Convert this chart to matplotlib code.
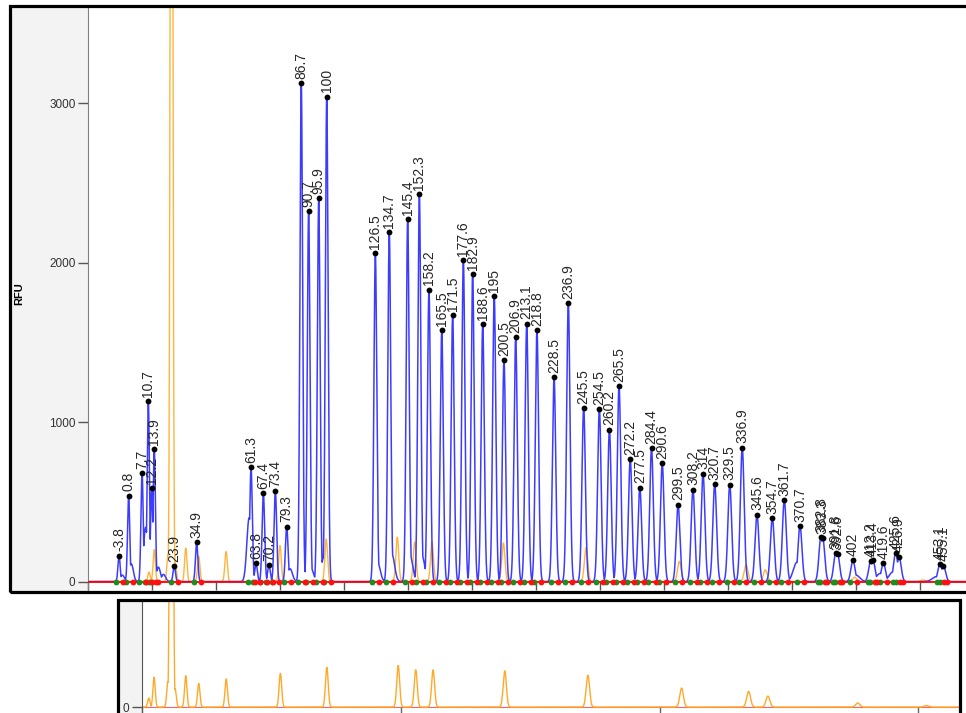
import numpy as np
import matplotlib
matplotlib.use('Agg')
import matplotlib.pyplot as plt
from matplotlib.patches import Rectangle

plt.rcParams['font.family'] = ['Liberation Sans', 'DejaVu Sans']

# called peaks of the blue dye: scan position, height (RFU) and size label (bp)
peak_scan = [1394, 1454, 1538, 1577, 1598, 1614, 1739, 1879, 2219, 2250,
             2296, 2331, 2371, 2442, 2533, 2579, 2642, 2692, 2996, 3083,
             3198, 3271, 3331, 3411, 3479, 3546, 3604, 3667, 3739, 3800,
             3873, 3942, 4006, 4113, 4202, 4298, 4396, 4459, 4519, 4589,
             4649, 4722, 4789, 4888, 4981, 5044, 5117, 5211, 5289, 5381,
             5477, 5552, 5650, 5781, 5792, 5873, 5885, 5981, 6092, 6106,
             6171, 6248, 6269, 6525, 6546]
peak_rfu = [163, 539, 680, 1130, 584, 833, 98, 245, 716, 115,
            553, 103, 567, 345, 3125, 2323, 2402, 3040, 2057, 2191,
            2273, 2428, 1830, 1576, 1669, 2016, 1928, 1612, 1791, 1387,
            1533, 1617, 1576, 1281, 1744, 1090, 1083, 953, 1226, 769,
            589, 836, 742, 483, 577, 677, 612, 608, 840, 420,
            399, 512, 349, 282, 274, 177, 173, 132, 127, 134,
            117, 180, 157, 111, 100]
peak_label = ['-3.8', '0.8', '7.7', '10.7', '12.2', '13.9', '23.9', '34.9', '61.3', '63.8',
              '67.4', '70.2', '73.4', '79.3', '86.7', '90.7', '95.9', '100', '126.5', '134.7',
              '145.4', '152.3', '158.2', '165.5', '171.5', '177.6', '182.9', '188.6', '195', '200.5',
              '206.9', '213.1', '218.8', '228.5', '236.9', '245.5', '254.5', '260.2', '265.5', '272.2',
              '277.5', '284.4', '290.6', '299.5', '308.2', '314', '320.7', '329.5', '336.9', '345.6',
              '354.7', '361.7', '370.7', '382.8', '383.3', '391.8', '392.6', '402', '412.2', '413.4',
              '419.6', '425.6', '426.9', '453.1', '455.1']

# unlabelled shoulders and tails on the blue trace
shoulder_scan = [1415, 1471, 1560, 1640, 1672, 2207, 2463, 2595, 2673, 3010,
                 3100, 3212, 3288, 5630, 6000, 6150, 6230, 6500]
shoulder_rfu = [40, 110, 340, 90, 45, 400, 80, 80, 150, 120,
                170, 170, 160, 120, 40, 50, 60, 30]

# size standard (orange dye)
std_scan = [1581, 1614, 1700, 1722, 1745, 1811, 1892, 2063, 2400, 2689,
            3133, 3242, 3350, 3796, 4313, 4896, 5313, 5433, 5992, 6419]
std_rfu = [60, 200, 170, 8000, 120, 210, 158, 188, 225, 266,
           278, 249, 249, 242, 213, 127, 105, 73, 27, 10]

W, H = 966, 713
PX = 6.25  # scans per pixel of the reference


def box(x0, y0, x1, y1):
    return [x0 / W, 1 - y1 / H, (x1 - x0) / W, (y1 - y0) / H]


def trace(x, centers, heights, widen=1.0):
    y = np.zeros_like(x)
    for c, h in zip(centers, heights):
        s = PX * (1.05 + 0.0013 * (c - 1200) / PX) * widen
        y = np.maximum(y, h * np.exp(-0.5 * ((x - c) / s) ** 2))
    return y


x = np.arange(1200, 6700, 0.5)
blue = np.maximum(trace(x, peak_scan, peak_rfu),
                  trace(x, shoulder_scan, shoulder_rfu, widen=1.8))
orange = trace(x, std_scan, std_rfu)

fig = plt.figure(figsize=(W / 100, H / 100), dpi=100)

# grey side panels and heavy frames
fig.add_artist(Rectangle((9.5 / W, 1 - 591.5 / H), (88 - 9.5) / W, (591.5 - 6) / H,
                         transform=fig.transFigure, fc='#f3f3f3', ec='none', zorder=-1))
fig.add_artist(Rectangle((117.5 / W, 0), (142 - 117.5) / W, (713 - 599.5) / H,
                         transform=fig.transFigure, fc='#f3f3f3', ec='none', zorder=-1))

ax = fig.add_axes(box(88, 7, 966, 590))
ax.plot(x, orange, color='#ffb43c', lw=1.0, zorder=1)
ax.plot(x, blue, color='#3c3cff', lw=1.1, zorder=2)
ax.axhline(0, color='#ff0000', lw=1.3, zorder=3)
ax.plot(np.array(peak_scan) - 19, np.zeros(len(peak_scan)), 'o', color='#1e8c1e',
        ms=4.2, mec='none', zorder=4)
ax.plot(np.array(peak_scan) + 25, np.zeros(len(peak_scan)), 'o', color='#ff1010',
        ms=4.2, mec='none', zorder=4)
ax.plot(peak_scan, peak_rfu, 'o', color='black', ms=4.2, mec='none', zorder=5)
for xs, h, lab in zip(peak_scan, peak_rfu, peak_label):
    ax.annotate(lab, (xs, h), xytext=(0, 3), textcoords='offset points',
                rotation=90, ha='center', va='bottom', fontsize=10, color='#262626')

ax.set_xlim(1200, 1200 + (966 - 88) * PX)
ax.set_ylim(-53, 3602)
ax.set_xticks(np.arange(1200, 6700, 400))
ax.set_yticks([0, 1000, 2000, 3000])
ax.tick_params(axis='x', direction='in', length=6, width=1, color='#555555', labelbottom=False)
ax.tick_params(axis='y', direction='out', length=7, width=1, color='#555555',
               labelsize=8.5, labelcolor='#333333', pad=2)
for side in ['top', 'right', 'bottom']:
    ax.spines[side].set_visible(False)
ax.spines['left'].set_color('#808080')
fig.text(19 / W, 1 - 294 / H, 'RFU', rotation=90, fontsize=8, fontweight='bold',
         ha='center', va='center')

# overview panel of the size standard
ax2 = fig.add_axes(box(142, 601, 959, 713))
ax2.plot(x, orange, color='#ffa928', lw=1.0, zorder=2)
ax2.axhline(0, color='#ff6060', lw=0.8, zorder=1)
ax2.set_xlim(1539, 6622)
ax2.set_ylim(-40, 710)
ax2.set_xticks(np.arange(1540, 6500, 1610))
ax2.set_yticks([0])
ax2.tick_params(axis='x', direction='in', length=4.5, width=1, color='#666666', labelbottom=False)
ax2.tick_params(axis='y', direction='out', length=7, width=1, color='#555555',
                labelsize=8.5, labelcolor='#333333', pad=2)
for side in ['top', 'right', 'bottom']:
    ax2.spines[side].set_visible(False)
ax2.spines['left'].set_color('#555555')

fig.add_artist(Rectangle((9.5 / W, 1 - 591.5 / H), (980 - 9.5) / W, (591.5 - 6) / H,
                         transform=fig.transFigure, fill=False, ec='black', lw=2.3, zorder=10))
fig.add_artist(Rectangle((117.5 / W, -0.02), (960 - 117.5) / W, (713 - 599.5) / H + 0.02,
                         transform=fig.transFigure, fill=False, ec='black', lw=2.3, zorder=10))

fig.savefig('out.png', dpi=100)
